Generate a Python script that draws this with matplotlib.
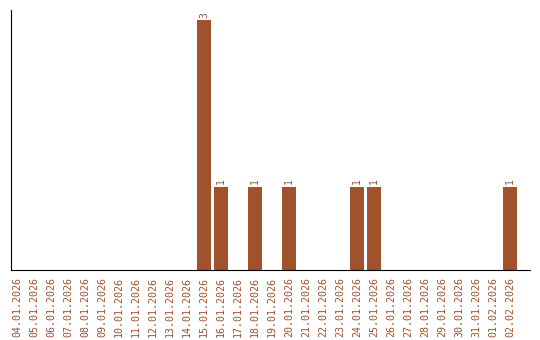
import matplotlib
matplotlib.use('Agg')
import matplotlib.pyplot as plt
import numpy as np

dates = ['04.01.2026', '05.01.2026', '06.01.2026', '07.01.2026', '08.01.2026',
         '09.01.2026', '10.01.2026', '11.01.2026', '12.01.2026', '13.01.2026',
         '14.01.2026', '15.01.2026', '16.01.2026', '17.01.2026', '18.01.2026',
         '19.01.2026', '20.01.2026', '21.01.2026', '22.01.2026', '23.01.2026',
         '24.01.2026', '25.01.2026', '26.01.2026', '27.01.2026', '28.01.2026',
         '29.01.2026', '30.01.2026', '31.01.2026', '01.02.2026', '02.02.2026']
counts = [0, 0, 0, 0, 0, 0, 0, 0, 0, 0, 0, 3, 1, 0, 1, 0, 1, 0, 0, 0,
          1, 1, 0, 0, 0, 0, 0, 0, 0, 1]

color = '#A0522D'

fig = plt.figure(figsize=(5.4, 3.4), dpi=100)
ax = fig.add_axes([11/540, 70/340, 519/540, 260/340])

x = np.arange(len(dates))
ax.bar(x, counts, width=0.82, color=color)

# value labels over non-empty bars
for xi, c in zip(x, counts):
    if c > 0:
        ax.text(xi, c + 0.03, str(c), rotation=90, ha='center', va='bottom',
                fontsize=7, family='DejaVu Sans Mono', color=color)

ax.set_xlim(-0.35, 30.18)
ax.set_ylim(0, 3.12)
ax.set_xticks(x)
ax.set_xticklabels(dates, rotation=90, fontsize=7.2, family='DejaVu Sans Mono', color=color)
ax.tick_params(axis='x', length=0, pad=5)
ax.set_yticks([])
ax.spines['top'].set_visible(False)
ax.spines['right'].set_visible(False)

fig.savefig('out.png', dpi=100)
